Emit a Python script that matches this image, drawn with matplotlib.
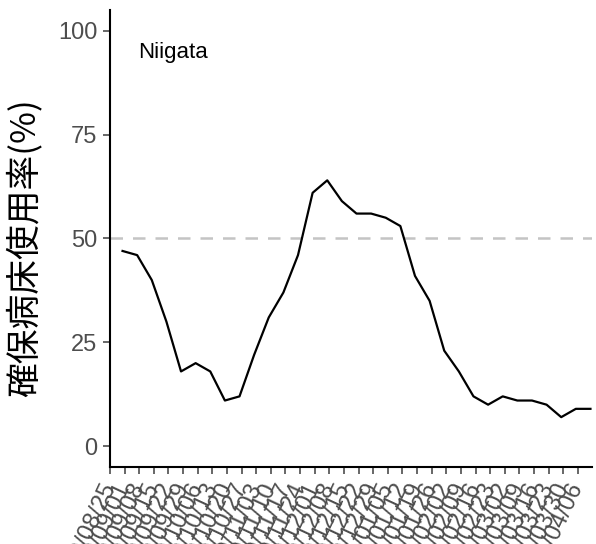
import matplotlib
matplotlib.use('Agg')
import matplotlib.pyplot as plt
import pandas as pd

# Weekly bed occupancy, Niigata
dates = pd.date_range('2020-08-31', periods=33, freq='7D')
occupancy = [47, 46, 40, 30, 18, 20, 18, 11, 12, 22, 31, 37, 46, 61, 64, 59,
             56, 56, 55, 53, 41, 35, 23, 18, 12, 10, 12, 11, 11, 10, 7, 9, 9]
tick_dates = pd.date_range('2020-08-25', periods=33, freq='7D')
tick_labels = [d.strftime('%Y/%m/%d') for d in tick_dates]
threshold = 50
region = 'Niigata'
ylabel = '確保病床使用率(%)'

plt.rcParams['font.family'] = ['Liberation Sans', 'DejaVu Sans']

fig = plt.figure(figsize=(5.96, 5.44), dpi=100)
ax = fig.add_axes([110 / 596, 1 - 467 / 544, 481.5 / 596, 457 / 544])

ax.axhline(threshold, color='#C4C4C4', linestyle=(0, (5, 4)), linewidth=1.8, zorder=1)
ax.plot(dates, occupancy, color='black', linewidth=1.6, zorder=2, clip_on=False)

ax.set_ylim(-5, 105)
ax.set_xlim(tick_dates[0], dates[-1] + pd.Timedelta(hours=12))
ax.set_yticks([0, 25, 50, 75, 100])

ax.set_xticks(tick_dates)
ax.set_xticklabels(tick_labels, rotation=65, ha='right', va='center',
                   rotation_mode='anchor')

ax.tick_params(axis='both', colors='#4D4D4D', labelsize=17, length=5, width=1.2)
ax.tick_params(axis='x', pad=7)
ax.tick_params(axis='y', pad=4)
for lab in ax.get_xticklabels() + ax.get_yticklabels():
    lab.set_color('#4D4D4D')

ax.set_ylabel(ylabel, fontsize=25, family=['Noto Sans CJK JP', 'DejaVu Sans'])
ax.yaxis.set_label_coords(-0.14, 0.48)

for side in ['top', 'right']:
    ax.spines[side].set_visible(False)
for side in ['left', 'bottom']:
    ax.spines[side].set_linewidth(1.5)
    ax.spines[side].set_color('black')

ax.text(0.058, 0.908, region, transform=ax.transAxes, fontsize=16,
        color='black', va='center', ha='left')

fig.savefig('out.png', dpi=100)
